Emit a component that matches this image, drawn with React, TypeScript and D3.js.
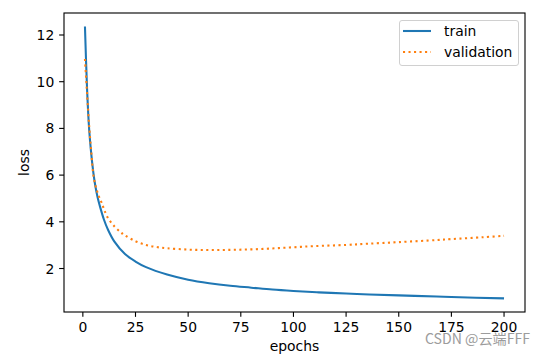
import React from "react";
import * as d3 from "d3";

const trainEpochs = [1, 2, 3, 4, 5, 6, 7, 8, 10, 12, 15, 20, 25, 30, 40, 50, 60, 70, 80, 90, 100, 112, 125, 136, 150, 168, 175, 200];
const trainLoss = [12.36, 9.7, 7.95, 6.9, 6.1, 5.5, 5.05, 4.7, 4.1, 3.65, 3.15, 2.62, 2.3, 2.06, 1.74, 1.52, 1.37, 1.26, 1.18, 1.1, 1.04, 0.98, 0.93, 0.89, 0.85, 0.8, 0.78, 0.72];

const valEpochs = [1, 2, 3, 4, 5, 6, 7, 8, 9, 10, 12, 15, 18, 20, 25, 30, 35, 40, 50, 60, 70, 80, 90, 100, 110, 125, 135, 150, 168, 175, 190, 200];
const valLoss = [10.97, 9.5, 8.1, 7.0, 6.0, 5.55, 5.25, 5.0, 4.8, 4.55, 4.15, 3.8, 3.55, 3.42, 3.17, 3.01, 2.92, 2.87, 2.81, 2.79, 2.8, 2.82, 2.86, 2.91, 2.96, 3.01, 3.06, 3.13, 3.22, 3.26, 3.34, 3.4];

const xTicks = [0, 25, 50, 75, 100, 125, 150, 175, 200];
const yTicks = [2, 4, 6, 8, 10, 12];
const seriesNames = ["train", "validation"];
const xLabel = "epochs";
const yLabel = "loss";
const watermark = "CSDN @云端FFF";

const W = 547;
const H = 355;
const L = 64, R = 525, T = 13, B = 312;
const FONT = "DejaVu Sans, sans-serif";
const FS = 13.9;
const LW = 2.08;
const DOT = `${LW} ${LW * 1.65}`;

export default function App() {
  const allX = [...trainEpochs, ...valEpochs];
  const allY = [...trainLoss, ...valLoss];
  const [x0, x1] = d3.extent(allX) as [number, number];
  const [y0, y1] = d3.extent(allY) as [number, number];
  const xm = (x1 - x0) * 0.05;
  const ym = (y1 - y0) * 0.05;
  const x = d3.scaleLinear().domain([x0 - xm, x1 + xm]).range([L, R]);
  const y = d3.scaleLinear().domain([y0 - ym, y1 + ym]).range([B, T]);

  const line = d3
    .line<[number, number]>()
    .x((d) => x(d[0]))
    .y((d) => y(d[1]))
    .curve(d3.curveCatmullRom.alpha(0.5));

  const trainPts = trainEpochs.map((e, i) => [e, trainLoss[i]] as [number, number]);
  const valPts = valEpochs.map((e, i) => [e, valLoss[i]] as [number, number]);

  const tickLen = 4.86;
  const pad = 4.86;

  return (
    <svg
      width={W}
      height={H}
      style={{ position: "absolute", left: 0, top: 0, background: "#fff" }}
      fontFamily={FONT}
    >
      <rect x={0} y={0} width={W} height={H} fill="#fff" />
      <path d={line(trainPts) || ""} fill="none" stroke="#1f77b4" strokeWidth={LW} />
      <path
        d={line(valPts) || ""}
        fill="none"
        stroke="#ff7f0e"
        strokeWidth={LW}
        strokeDasharray={DOT}
      />
      <rect x={L} y={T} width={R - L} height={B - T} fill="none" stroke="#000" strokeWidth={1.11} />
      {xTicks.map((t) => (
        <g key={"x" + t}>
          <line x1={x(t)} x2={x(t)} y1={B} y2={B + tickLen} stroke="#000" strokeWidth={1.11} />
          <text x={x(t)} y={B + tickLen + pad + FS * 0.76} fontSize={FS} textAnchor="middle" fill="#000">
            {t}
          </text>
        </g>
      ))}
      {yTicks.map((t) => (
        <g key={"y" + t}>
          <line x1={L - tickLen} x2={L} y1={y(t)} y2={y(t)} stroke="#000" strokeWidth={1.11} />
          <text x={L - tickLen - pad} y={y(t)} dy="0.36em" fontSize={FS} textAnchor="end" fill="#000">
            {t}
          </text>
        </g>
      ))}
      <text x={(L + R) / 2} y={351} fontSize={FS} textAnchor="middle" fill="#000">
        {xLabel}
      </text>
      <text
        transform={`translate(${29},${(T + B) / 2}) rotate(-90)`}
        fontSize={FS}
        textAnchor="middle"
        fill="#000"
      >
        {yLabel}
      </text>
      <g>
        <rect x={399.5} y={20.5} width={119} height={45} rx={2.5} fill="#fff" fillOpacity={0.8} stroke="#d0d0d0" strokeWidth={1} />
        <line x1={403} x2={431} y1={31} y2={31} stroke="#1f77b4" strokeWidth={LW} />
        <line x1={403} x2={431} y1={52} y2={52} stroke="#ff7f0e" strokeWidth={LW} strokeDasharray={DOT} />
        <text x={444} y={31} dy="0.36em" fontSize={FS} fill="#000">
          {seriesNames[0]}
        </text>
        <text x={444} y={52} dy="0.36em" fontSize={FS} fill="#000">
          {seriesNames[1]}
        </text>
      </g>
      <text
        x={425}
        y={344}
        fontSize={14}
        textLength={105}
        lengthAdjust="spacingAndGlyphs"
        fill="#9c9c9c"
        fontFamily="'Noto Sans CJK SC', 'Noto Sans', sans-serif"
      >
        {watermark}
      </text>
    </svg>
  );
}
